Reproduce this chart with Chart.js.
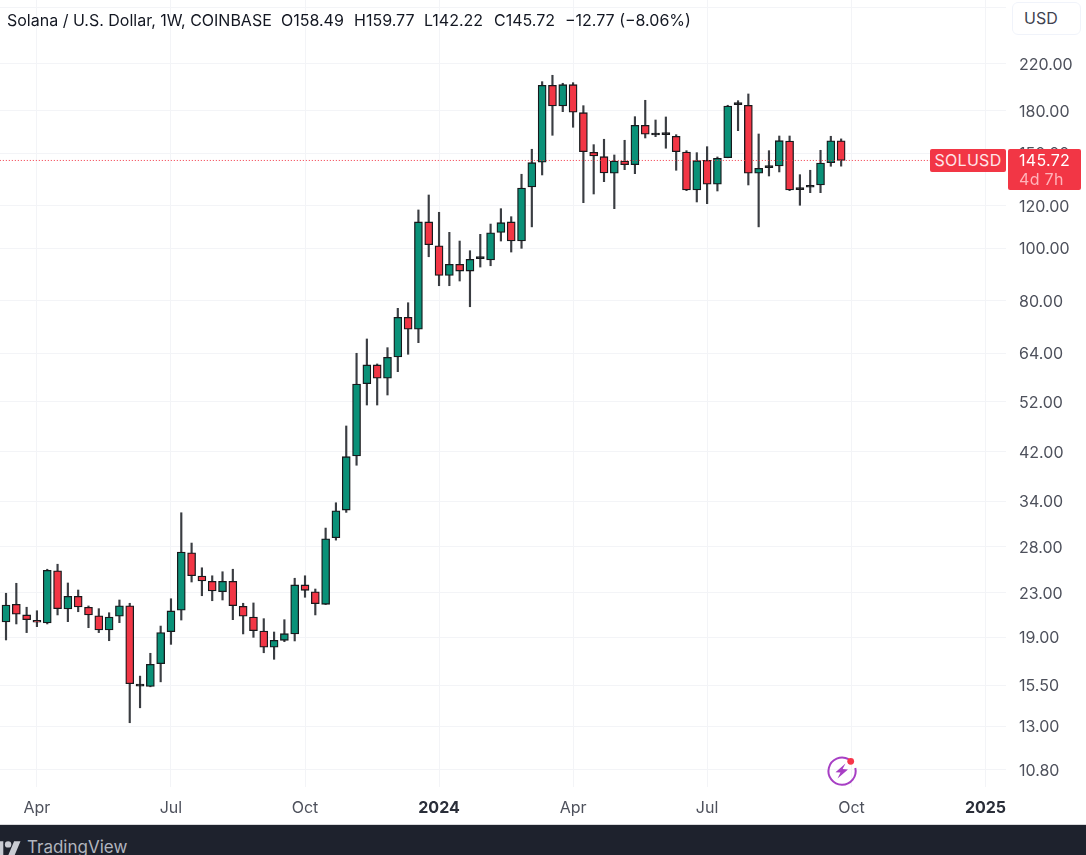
<!DOCTYPE html>
<html>
<head>
<meta charset="utf-8">
<title>Solana / U.S. Dollar</title>
<script src="https://cdn.jsdelivr.net/npm/chart.js@4"></script>
<style>
html,body{margin:0;padding:0;background:#fff;width:1086px;height:855px;overflow:hidden;font-family:Inter,Roboto,sans-serif}
#wrap{position:absolute;left:0;top:0;width:1086px;height:824px}
canvas{display:block}
.t{position:absolute;white-space:nowrap;font-size:16px;line-height:20px;color:#131722}
#usd{position:absolute;left:1012px;top:2px;width:69px;height:33px;box-sizing:border-box;background:#fff;border:1px solid #f0f3fa;border-radius:6px;font-size:16px;line-height:31px;padding-left:11px;color:#3f4350}
.tag{position:absolute;background:#f23645;border-radius:2px;color:#ffe4e7;font-size:16px;letter-spacing:.3px}
#foot{position:absolute;left:0;top:824px;width:1086px;height:31px;background:#1e222d;border-top:1px solid #d9d9dc;box-sizing:border-box;overflow:hidden}
</style>
</head>
<body>
<div id="wrap"><canvas id="c" width="1086" height="824"></canvas></div>

<div class="t" style="left:7px;top:10px">Solana / U.S. Dollar, 1W, COINBASE</div>
<div class="t" style="left:281px;top:10px">O158.49</div>
<div class="t" style="left:354px;top:10px">H159.77</div>
<div class="t" style="left:424px;top:10px">L142.22</div>
<div class="t" style="left:494px;top:10px">C145.72</div>
<div class="t" style="left:565px;top:10px">−12.77 (−8.06%)</div>

<div id="usd">USD</div>
<div class="tag" style="left:930px;top:149px;width:76px;height:23px;line-height:23px;text-align:center">SOLUSD</div>
<div class="tag" style="left:1008px;top:149px;width:73px;height:41px">
  <div style="position:absolute;left:11px;top:1px;line-height:21px;color:#fff">145.72</div>
  <div style="position:absolute;left:11px;top:20px;line-height:21px;color:#ffb3ba">4d 7h</div>
</div>

<svg style="position:absolute;left:824px;top:753px" width="36" height="36" viewBox="0 0 36 36">
  <path d="M24.6 6.2A13.6 13.6 0 1 0 31.3 15" fill="none" stroke="#a73fc4" stroke-width="2"/>
  <path d="M21.5 10.5 L11.5 19.2 L16.5 19.6 L13.5 25.5 L24 16.4 L18.6 16 Z" fill="#a73fc4"/>
  <circle cx="26.7" cy="8.3" r="3.4" fill="#f7354a"/>
</svg>

<div id="foot">
  <svg style="position:absolute;left:-8.5px;top:13px" width="29" height="22.4" viewBox="0 0 36 28" fill="#c9cbd2">
    <path d="M14 22H7V11H0V4h14v18zM28 22h-8l7.5-18h8L28 22z"/><circle cx="20" cy="8" r="4"/>
  </svg>
  <div style="position:absolute;left:27px;top:10px;font-size:17px;line-height:24px;color:#b2b5be">TradingView</div>
</div>

<script>
// Weekly candles, first candle is the week of 2023-02-27
const opens  = [20.31,20.31,21.90,20.93,20.46,20.22,25.28,21.47,22.66,21.63,20.86,19.63,20.81,21.77,15.55,15.42,17.00,19.49,21.35,27.29,24.71,24.16,23.11,24.16,21.72,20.75,19.54,18.23,18.78,19.30,23.79,23.11,21.90,29.10,32.75,41.26,56.18,60.86,57.49,62.97,74.58,70.87,112.08,101.25,89.22,93.50,90.87,95.80,95.25,107.20,112.08,103.30,130.12,144.60,200.88,183.88,201.39,178.70,150.90,148.09,137.96,145.39,143.11,169.34,162.47,162.67,161.57,151.10,128.47,145.83,131.62,147.46,184.90,184.45,137.96,141.30,142.33,158.35,128.63,129.95,131.24,144.35,158.49];
const highs  = [21.38,22.96,23.96,21.63,21.31,25.44,25.99,23.99,23.28,21.75,21.50,21.13,22.31,22.00,16.12,17.77,19.96,22.43,32.38,28.45,25.60,24.74,25.17,25.44,22.00,22.03,20.60,19.46,20.51,24.48,24.74,23.38,30.33,33.79,46.90,63.97,68.00,61.12,65.52,77.51,79.38,117.96,125.74,116.79,107.20,103.30,99.12,106.29,111.07,118.61,114.62,137.38,152.85,203.99,209.64,202.60,203.13,184.12,155.89,159.52,149.17,158.83,175.67,188.40,173.20,175.45,162.67,151.94,150.65,154.55,147.90,184.45,188.10,193.56,163.15,151.94,161.76,161.76,137.14,139.74,152.19,161.57,159.77];
const lows   = [19.63,18.81,20.14,19.41,19.91,20.14,20.93,20.34,21.22,19.82,19.41,18.75,20.25,13.21,14.08,15.40,15.73,18.46,20.48,24.09,22.72,22.24,22.31,20.51,19.30,19.02,17.81,17.32,18.67,18.73,22.57,20.93,21.88,28.81,32.43,39.66,51.29,51.29,53.53,59.14,63.70,66.94,96.60,85.36,85.36,87.09,78.03,92.44,92.96,103.30,98.56,100.13,109.74,136.97,162.25,179.45,167.90,121.68,126.28,133.10,118.61,140.09,137.73,160.40,161.28,153.52,139.74,128.09,122.05,121.16,127.91,147.40,165.48,131.24,109.74,136.37,138.74,128.09,120.34,126.99,126.99,142.15,142.22];
const closes = [20.93,21.84,20.99,20.51,20.29,25.33,21.50,22.66,21.65,20.93,19.63,20.75,21.77,15.60,15.45,16.95,19.41,21.29,27.37,24.74,24.20,23.18,24.16,21.77,20.81,19.57,18.23,18.78,19.32,23.79,23.25,21.96,28.97,32.65,41.14,56.10,60.86,57.49,62.89,74.58,70.87,112.08,101.67,89.22,93.50,90.87,95.53,96.18,107.02,111.71,103.30,129.56,144.35,200.88,183.88,201.39,179.01,151.28,148.54,138.14,145.39,143.11,169.34,162.96,163.15,163.37,151.28,128.47,145.58,131.62,147.09,183.88,186.00,137.96,140.94,142.15,158.56,128.47,129.56,130.68,144.16,158.49,145.72];

const priceTicks = [280,220,180,150,120,100,80,64,52,42,34,28,23,19,15.5,13,10.8];
const hiddenPriceLabels = [280];
const timeTickWeeks  = ['2023-03-27','2023-06-26','2023-09-25','2023-12-25','2024-03-25','2024-06-24','2024-09-30','2024-12-30'];
const timeTickLabels = ['Apr','Jul','Oct','2024','Apr','Jul','Oct','2025'];
const boldTimeLabels = ['2024','2025'];
const lastPrice = 145.72;

const weeks = [];
for (let d = Date.UTC(2023,1,27); d <= Date.UTC(2025,0,13); d += 7*864e5) {
  weeks.push(new Date(d).toISOString().slice(0,10));
}
const timeTickIndex = timeTickWeeks.map(w => weeks.indexOf(w));

const UP = '#0a9178', DOWN = '#f23645', INK = '#17191c', WICK = '#3a3d42';
const GRID = '#f3f4f7', TEXT = '#4e515c';
const isDoji = i => Math.max(opens[i], closes[i]) / Math.min(opens[i], closes[i]) < 1.0075;

const bodies = opens.map((o,i) => ({x:i, y:[o, closes[i]]}));
const wicks  = opens.map((o,i) => ({x:i, y:[lows[i], highs[i]]}));

new Chart(document.getElementById('c'), {
  data: {
    datasets: [
      {type:'line', data:[{x:0.4,y:lastPrice},{x:98,y:lastPrice}], borderColor:'#f23645', borderWidth:1, borderDash:[1,2], pointRadius:0, fill:false},
      {type:'bar', data:bodies, barThickness:8, minBarLength:2, grouped:false, borderSkipped:false, borderWidth:1.3, borderColor:INK,
        backgroundColor: c => isDoji(c.dataIndex) ? INK : (closes[c.dataIndex] >= opens[c.dataIndex] ? UP : DOWN)},
      {type:'bar', data:wicks, barThickness:1.5, grouped:false, borderWidth:0, backgroundColor:WICK}
    ]
  },
  options: {
    responsive:false, animation:false, events:[],
    layout:{padding:0, autoPadding:false},
    plugins:{legend:{display:false}, tooltip:{enabled:false}, title:{display:false}},
    scales:{
      x:{
        type:'linear', min:0.417, max:97.99, offset:false,
        afterBuildTicks: s => { s.ticks = timeTickIndex.map(v => ({value:v})); },
        afterFit: s => { s.height = 37; s.paddingLeft = 0; s.paddingRight = 0; },
        border:{display:false},
        grid:{color:GRID, lineWidth:1, drawTicks:false, offset:false},
        ticks:{
          autoSkip:false, maxRotation:0, padding:12,
          callback:(v) => timeTickLabels[timeTickIndex.indexOf(v)],
          color: c => boldTimeLabels.includes(timeTickLabels[c.index]) ? '#2a2e39' : TEXT,
          font: c => ({family:'Inter', size:16, weight: boldTimeLabels.includes(timeTickLabels[c.index]) ? '700' : '400'})
        }
      },
      y:{
        type:'logarithmic', position:'right', min:10.04, max:289.1, bounds:'data',
        afterBuildTicks: s => { s.ticks = priceTicks.map(v => ({value:v})); },
        afterFit: s => { s.width = 80; s.paddingTop = 0; s.paddingBottom = 0; },
        border:{display:false},
        grid:{color:GRID, lineWidth:1, drawTicks:false},
        ticks:{
          autoSkip:false, padding:13, crossAlign:'near', color:TEXT, labelOffset:1,
          font:{family:'Inter', size:16},
          callback:v => hiddenPriceLabels.includes(v) ? '' : v.toFixed(2)
        }
      }
    }
  }
});
</script>
</body>
</html>
